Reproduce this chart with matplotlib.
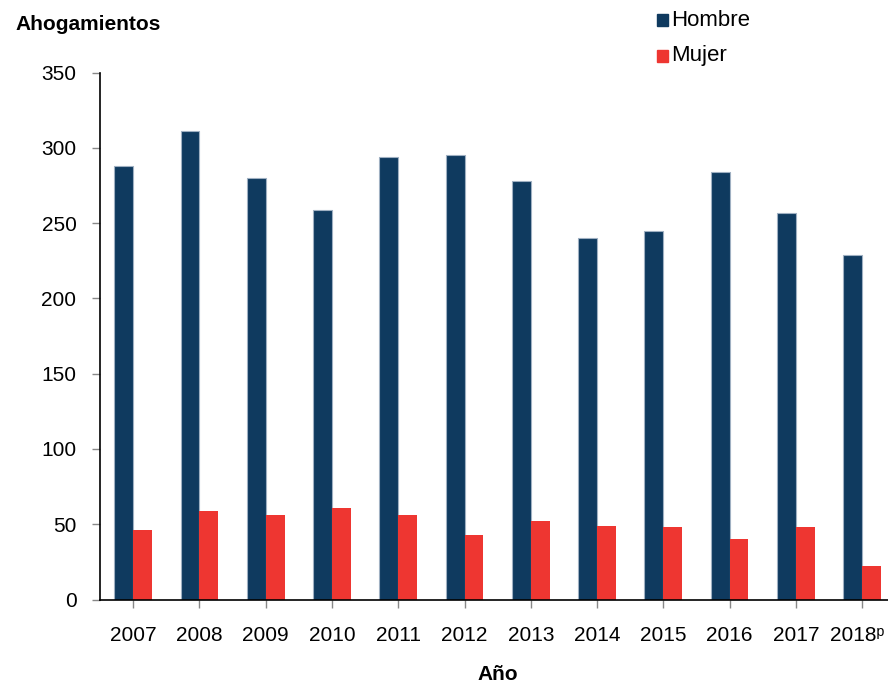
import numpy as np
import matplotlib.pyplot as plt
import matplotlib.transforms as mtransforms
from matplotlib.patches import Rectangle

plt.rcParams['font.family'] = ['Liberation Sans', 'DejaVu Sans']

# datos
anios = ["2007", "2008", "2009", "2010", "2011", "2012",
         "2013", "2014", "2015", "2016", "2017", "2018\u1d56"]
hombre = [288, 311, 280, 259, 294, 295, 278, 240, 245, 284, 257, 229]
mujer = [46, 59, 56, 61, 56, 43, 52, 49, 48, 40, 48, 22]

azul = "#0F3A5F"
rojo = "#EE3631"

fig = plt.figure(figsize=(8.88, 6.85), dpi=100)
ax = fig.add_axes([100 / 888, 1 - 599.5 / 685, 788 / 888, 527 / 685])

x = np.arange(len(anios))
w = 0.285
ax.bar(x - w / 2, hombre, w, color=azul, edgecolor="#9FB0C2", linewidth=0.8)
ax.bar(x + w / 2, mujer, w, color=rojo, linewidth=0)

ax.set_xlim(-0.5, 11.39)
ax.set_ylim(0, 350)
ax.set_yticks(range(0, 351, 50))
ax.set_xticks(x)
ax.set_xticklabels(anios)

for s in ["top", "right"]:
    ax.spines[s].set_visible(False)
ax.spines["left"].set_linewidth(1.2)
ax.spines["bottom"].set_linewidth(1.2)

ax.tick_params(axis="y", length=6, width=1, color="#888888", labelsize=15, pad=11)
ax.tick_params(axis="x", length=6, width=1, color="#888888", labelsize=15, pad=13)

# mover un poco la ultima etiqueta para que quepa la "p"
ultima = ax.get_xticklabels()[-1]
ultima.set_transform(ultima.get_transform() +
                     mtransforms.ScaledTranslation(-5 / 100, 0, fig.dpi_scale_trans))

fig.text(15 / 888, 1 - 25 / 685, "Ahogamientos", fontsize=15, va="center", ha="left",
         fontweight="semibold")
fig.text(498 / 888, 1 - 675 / 685, "Año", fontsize=15, va="center", ha="center",
         fontweight="semibold")

# leyenda
for i, (lab, col) in enumerate([("Hombre", azul), ("Mujer", rojo)]):
    yc = 1 - (20 + 36 * i) / 685
    fig.patches.append(Rectangle((657 / 888, yc - 6 / 685), 11 / 888, 12 / 685,
                                 transform=fig.transFigure, color=col))
    fig.text(671 / 888, yc, lab, fontsize=16, va="center", ha="left")

fig.savefig("out.png", dpi=100)
